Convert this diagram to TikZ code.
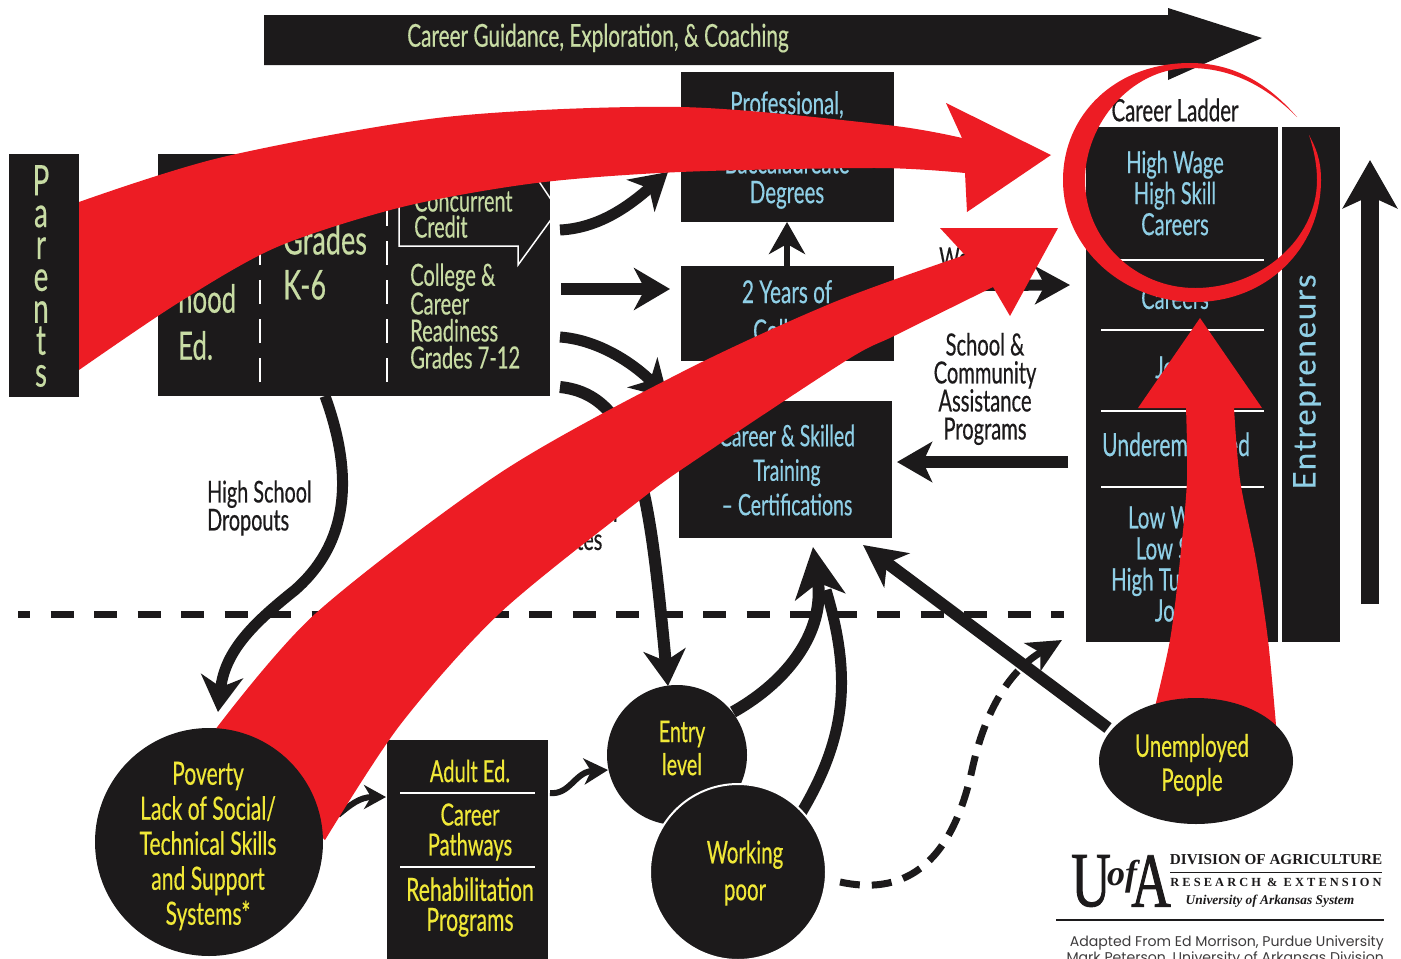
\documentclass[tikz,border=0pt]{standalone}
\usepackage{fontspec}
\usetikzlibrary{arrows.meta,shapes.geometric}
\setmainfont{Lato}
\newfontfamily\cond[FakeStretch=0.66,FakeBold=0.4]{Lato}
\newfontfamily\wide[LetterSpace=6,FakeBold=0.4]{Lato}
\newfontfamily\logofont{Liberation Serif}
\newfontfamily\logotall[FakeStretch=0.7,FakeBold=1.2]{Liberation Serif}
\newfontfamily\gothic{Poppins}
\definecolor{ink}{HTML}{1C1A1B}
\definecolor{redarrow}{HTML}{ED1C24}
\definecolor{bluetext}{HTML}{8FCFE6}
\definecolor{greentext}{HTML}{C8DCA4}
\definecolor{yellowtext}{HTML}{F0E838}
\tikzset{
  blackbox/.style={fill=ink,inner sep=0pt,outer sep=0pt,rectangle},
  disc/.style={fill=ink,circle,inner sep=0pt,outer sep=0pt},
  lbl/.style={inner sep=0pt,align=center},
  greenlbl/.style={lbl,text=greentext},
  yellbl/.style={lbl,text=yellowtext},
  blklbl/.style={lbl,text=ink},
  bluelbl/.style={lbl,text=bluetext},
  whiteline/.style={draw=white,line width=1.5pt},
  conn/.style={draw=ink,line width=#1},
  head/.style n args={3}{-{Stealth[length=#1,width=#2,inset=#3]}},
  heavyhead/.style={head={36pt}{42pt}{11pt}},
  redfill/.style={fill=redarrow},
}
\begin{document}
\begin{tikzpicture}[x=1pt,y=-1pt]
\clip (0,0) rectangle (1401,959);
\fill[white] (0,0) rectangle (1401,959);

% ---------- top arrow
\fill[ink] (264,15) -- (1168,15) -- (1168,8) -- (1262,38) -- (1168,80) -- (1168,65) -- (264,65) -- cycle;
\node[greenlbl,font=\cond\fontsize{31.5}{32}\selectfont] (guidance) at (598,38) {Career Guidance, Exploration, \& Coaching};

% ---------- parents and school box
\node[blackbox,minimum width=70pt,minimum height=243pt] (parentsbox) at (44,275.5) {};
\node[greenlbl,font=\cond\fontsize{42}{31.9}\selectfont] (parents) at (41,276) {P\\a\\r\\e\\n\\t\\s};
\node[blackbox,minimum width=392pt,minimum height=242pt] (school) at (354,275) {};
\draw[whiteline,dash pattern=on 24pt off 15pt] (260,382) -- (260,160);
\draw[whiteline,dash pattern=on 24pt off 15pt] (387,382) -- (387,160);
\draw[whiteline] (518,150) -- (558,210) -- (518,265) -- (518,246) -- (399,246) -- (399,150);
\node[greenlbl,font=\cond\fontsize{39}{47}\selectfont,align=left,anchor=west] (early) at (178,275) {Early\\Child\\hood\\Ed.};
\node[greenlbl,font=\cond\fontsize{41}{45}\selectfont,align=left,anchor=west] (grades) at (283,262) {Grades\\K-6};
\node[greenlbl,font=\cond\fontsize{30}{26}\selectfont,align=left,anchor=south west] (concurrent) at (414,238) {Concurrent\\Credit};
\node[greenlbl,font=\cond\fontsize{30.5}{27}\selectfont,align=left,anchor=west] (readiness) at (410,316) {College \&\\Career\\Readiness\\Grades 7-12};

% ---------- education boxes
\node[blackbox,minimum width=213pt,minimum height=150pt] (prof) at (787.5,147) {};
\node[bluelbl,font=\cond\fontsize{31}{29.7}\selectfont] (proftext) at (787,150) {Professional,\\[29.7pt]Baccalaureate\\Degrees};
\node[blackbox,minimum width=213pt,minimum height=95pt] (college) at (787.5,313.5) {};
\node[bluelbl,font=\cond\fontsize{31.5}{39}\selectfont] (collegetext) at (787,314) {2 Years of\\College};
\node[blackbox,minimum width=213pt,minimum height=137pt] (training) at (785.5,469.5) {};
\node[bluelbl,font=\cond\fontsize{29.5}{34.5}\selectfont] (trainingtext) at (787,470) {Career \& Skilled\\Training\\– Certifications};

% ---------- career ladder
\node[blklbl,font=\cond\fontsize{31}{30}\selectfont] (ladder) at (1175,110) {Career Ladder};
\node[blackbox,minimum width=192pt,minimum height=515pt] (ladderbox) at (1182,384.5) {};
\node[blackbox,minimum width=58pt,minimum height=515pt] (entrebox) at (1311,384.5) {};
\draw[whiteline] (1101,260) -- (1264,260) (1101,330) -- (1264,330) (1101,411) -- (1264,411) (1101,487) -- (1264,487);
\node[bluelbl,font=\cond\fontsize{30.5}{31}\selectfont] (highwage) at (1175,193) {High Wage\\High Skill\\Careers};
\node[bluelbl,font=\cond\fontsize{30.5}{31}\selectfont] (midcareers) at (1175,298) {Careers};
\node[bluelbl,font=\cond\fontsize{30.5}{31}\selectfont] (jobs) at (1175,367) {Jobs};
\node[bluelbl,font=\cond\fontsize{32}{31}\selectfont] (under) at (1176,447) {Underemployed};
\node[bluelbl,font=\cond\fontsize{31}{31}\selectfont] (lowwage) at (1175,564) {Low Wage\\Low Skill\\High Turnover\\Jobs};
\node[bluelbl,font=\wide\fontsize{31}{34}\selectfont,rotate=90] (entre) at (1307,382) {Entrepreneurs};

% ---------- labels
\node[blklbl,font=\cond\fontsize{30.5}{28}\selectfont] (school2) at (985,389) {School \&\\Community\\Assistance\\Programs};
\node[blklbl,font=\cond\fontsize{30}{28}\selectfont,align=left,anchor=west] (dropouts) at (207,508) {High School\\Dropouts};
\node[blklbl,font=\cond\fontsize{30}{28}\selectfont,align=left,anchor=west] (graduates) at (513,525) {High School\\Graduates};
\node[blklbl,font=\cond\fontsize{30}{28}\selectfont,anchor=west] (workforce) at (939,258) {Workforce};

% ---------- dashed divide
\coordinate (divL) at (18,614);
\coordinate (divR) at (1064,614);
\draw[ink,line width=7pt,dash pattern=on 23pt off 20.5pt,dash phase=11pt] (divL) -- (divR);

% ---------- lower nodes
\node[blackbox,minimum width=161pt,minimum height=220pt] (adult) at (467.5,850) {};
\draw[whiteline] (400,793) -- (535,793) (400,867) -- (535,867);
\node[yellbl,font=\cond\fontsize{30.5}{30}\selectfont] (adultT) at (470,771) {Adult Ed.};
\node[yellbl,font=\cond\fontsize{30.5}{30}\selectfont] (pathways) at (470,832) {Career\\Pathways};
\node[yellbl,font=\cond\fontsize{32}{30}\selectfont] (rehab) at (470,907) {Rehabilitation\\Programs};
\node[disc,minimum size=140pt] (entry) at (677,755) {};
\node[yellbl,font=\cond\fontsize{30}{33}\selectfont] (entryT) at (682,748) {Entry\\level};

% ---------- connectors
\coordinate (a1s) at (560,230); \coordinate (a1e) at (668,172);
\draw[conn=11pt,heavyhead] (a1s) .. controls (600,228) and (630,205) .. (a1e);
\coordinate (a2s) at (561,289); \coordinate (a2e) at (670,289);
\draw[conn=12pt,heavyhead] (a2s) -- (a2e);
\coordinate (a3s) at (560,337); \coordinate (a3e) at (668,398);
\draw[conn=11pt,heavyhead] (a3s) .. controls (600,340) and (635,365) .. (a3e);
\coordinate (a4s) at (560,387); \coordinate (a4e) at (668,686);
\draw[conn=12pt,heavyhead] (a4s) .. controls (640,395) and (650,500) .. (a4e);
\coordinate (a5e) at (787,222); \coordinate (a5s) at (787,266);
\draw[conn=6pt,head={32pt}{36pt}{10pt}] (a5s) -- (a5e);
\coordinate (drops) at (325,396); \coordinate (drope) at (218,712);
\draw[conn=11pt,heavyhead] (drops) .. controls (352,470) and (352,540) .. (295,590) .. controls (255,622) and (225,650) .. (drope);
\coordinate (a6s) at (338,815); \coordinate (a6e) at (386,797);
\draw[conn=6pt,head={22pt}{24pt}{7pt}] (a6s) .. controls (350,805) and (360,797) .. (a6e);
\coordinate (a7s) at (550,793); \coordinate (a7e) at (608,770);
\draw[conn=6pt,head={24pt}{26pt}{7pt}] (a7s) .. controls (570,795) and (575,772) .. (a7e);
\coordinate (a8s) at (733,712); \coordinate (a8e) at (813,547);
\draw[conn=12pt,head={50pt}{50pt}{14pt}] (a8s) .. controls (790,680) and (825,630) .. (a8e);
\coordinate (a9s) at (800,815); \coordinate (a9e) at (826,590);
\draw[conn=11pt] (a9s) .. controls (845,740) and (853,680) .. (a9e);
\coordinate (a10s) at (1108,728); \coordinate (a10e) at (863,545);
\draw[conn=12pt,head={42pt}{42pt}{12pt}] (a10s) -- (a10e);
\coordinate (a11s) at (1068,462); \coordinate (a11e) at (897,462);
\draw[conn=12pt,head={35pt}{40pt}{9pt}] (a11s) -- (a11e);
\coordinate (a12s) at (900,286); \coordinate (a12e) at (1070,285);
\draw[conn=11pt,head={35pt}{38pt}{10pt}] (a12s) -- (a12e);
\coordinate (a13s) at (1370,604); \coordinate (a13e) at (1370,160);
\draw[conn=18pt,head={48pt}{54pt}{12pt}] (a13s) -- (a13e);
\coordinate (a14s) at (840,882); \coordinate (a14e) at (1062,640);
\draw[conn=7pt,dash pattern=on 20pt off 12pt,-{Stealth[length=34pt,width=32pt,inset=9pt]}] (a14s) .. controls (900,895) and (950,870) .. (972,770) .. controls (985,710) and (1010,670) .. (a14e);

% ---------- red arrows
\fill[redfill] plot[smooth] coordinates {(79,202) (223,157) (446,117) (680,107) (887,125) (962,138)}
  -- (946,103) -- (1051,155) -- (967,212)
  -- plot[smooth] coordinates {(965,173) (878,168) (680,172) (536,183) (402,207) (277,247) (178,303) (79,370)} -- cycle;
\fill[redfill] plot[smooth] coordinates {(215,730) (315,614) (500,473) (680,373) (832,303) (965,255)}
  -- (940,228) -- (1058,228) -- (1010,316)
  -- plot[smooth] coordinates {(993,287) (896,335) (847,360) (700,457) (640,500) (500,613) (400,725) (325,840)} -- cycle;
\fill[redfill] plot[smooth] coordinates {(1153,715) (1170,640) (1180,560) (1187,480) (1186,408)}
  -- (1138,408) -- (1200,318) -- (1262,408)
  -- plot[smooth] coordinates {(1234,408) (1240,480) (1256,560) (1268,640) (1276,725)} -- cycle;
\fill[redfill] (1297,117) .. controls (1265,80) and (1230,63) .. (1190,63)
  .. controls (1115,63) and (1063,115) .. (1063,180)
  .. controls (1063,250) and (1125,302) .. (1195,302)
  .. controls (1265,302) and (1321,250) .. (1321,180)
  .. controls (1321,160) and (1316,148) .. (1309,135)
  .. controls (1314,150) and (1317,165) .. (1317,180)
  .. controls (1317,240) and (1260,288) .. (1195,288)
  .. controls (1135,288) and (1085,240) .. (1085,180)
  .. controls (1085,125) and (1130,68) .. (1190,68)
  .. controls (1230,68) and (1265,85) .. (1297,117) -- cycle;

% ---------- discs over the red
\node[disc,minimum size=228pt] (poverty) at (209,842) {};
\node[yellbl,font=\cond\fontsize{32}{35}\selectfont] (povertyT) at (208,846) {Poverty\\Lack of Social/\\Technical Skills\\and Support\\Systems*};
\node[disc,draw=white,line width=2pt,minimum size=176pt] (working) at (738,872) {};
\node[yellbl,font=\cond\fontsize{31}{37}\selectfont] (workingT) at (745,873) {Working\\poor};
\node[fill=ink,ellipse,inner sep=0pt,minimum width=194pt,minimum height=126pt] (unemployed) at (1196,761) {};
\node[yellbl,font=\cond\fontsize{31}{34}\selectfont] (unemployedT) at (1192,765) {Unemployed\\People};

% ---------- logo
\node[lbl,text=ink,font=\logotall\fontsize{78}{78}\selectfont] (logoU) at (1091,881) {U};
\node[lbl,text=ink,font=\logofont\bfseries\itshape\fontsize{36}{36}\selectfont] (logoOf) at (1122,877) {of};
\node[lbl,text=ink,font=\logotall\fontsize{78}{78}\selectfont] (logoA) at (1151,881) {A};
\node[lbl,text=ink,font=\logofont\bfseries\fontsize{15.2}{16}\selectfont] (division) at (1276,860) {DIVISION OF AGRICULTURE};
\draw[ink,line width=0.8pt] (1170,872) -- (1382,872);
\node[lbl,text=ink,font=\logofont\bfseries\fontsize{12.4}{14}\selectfont] (research) at (1276,882) {R E S E A R C H \ \& \ E X T E N S I O N};
\node[lbl,text=ink,font=\logofont\bfseries\itshape\fontsize{13.4}{14}\selectfont] (system) at (1270,901) {University of Arkansas System};
\draw[ink,line width=1.6pt] (1056,920) -- (1384,920);
\node[lbl,text=ink!85,font=\gothic\fontsize{14.1}{14}\selectfont,align=right,anchor=north east] (adapted) at (1384,936) {Adapted From Ed Morrison, Purdue University\\Mark Peterson, University of Arkansas Division};
\end{tikzpicture}
\end{document}
